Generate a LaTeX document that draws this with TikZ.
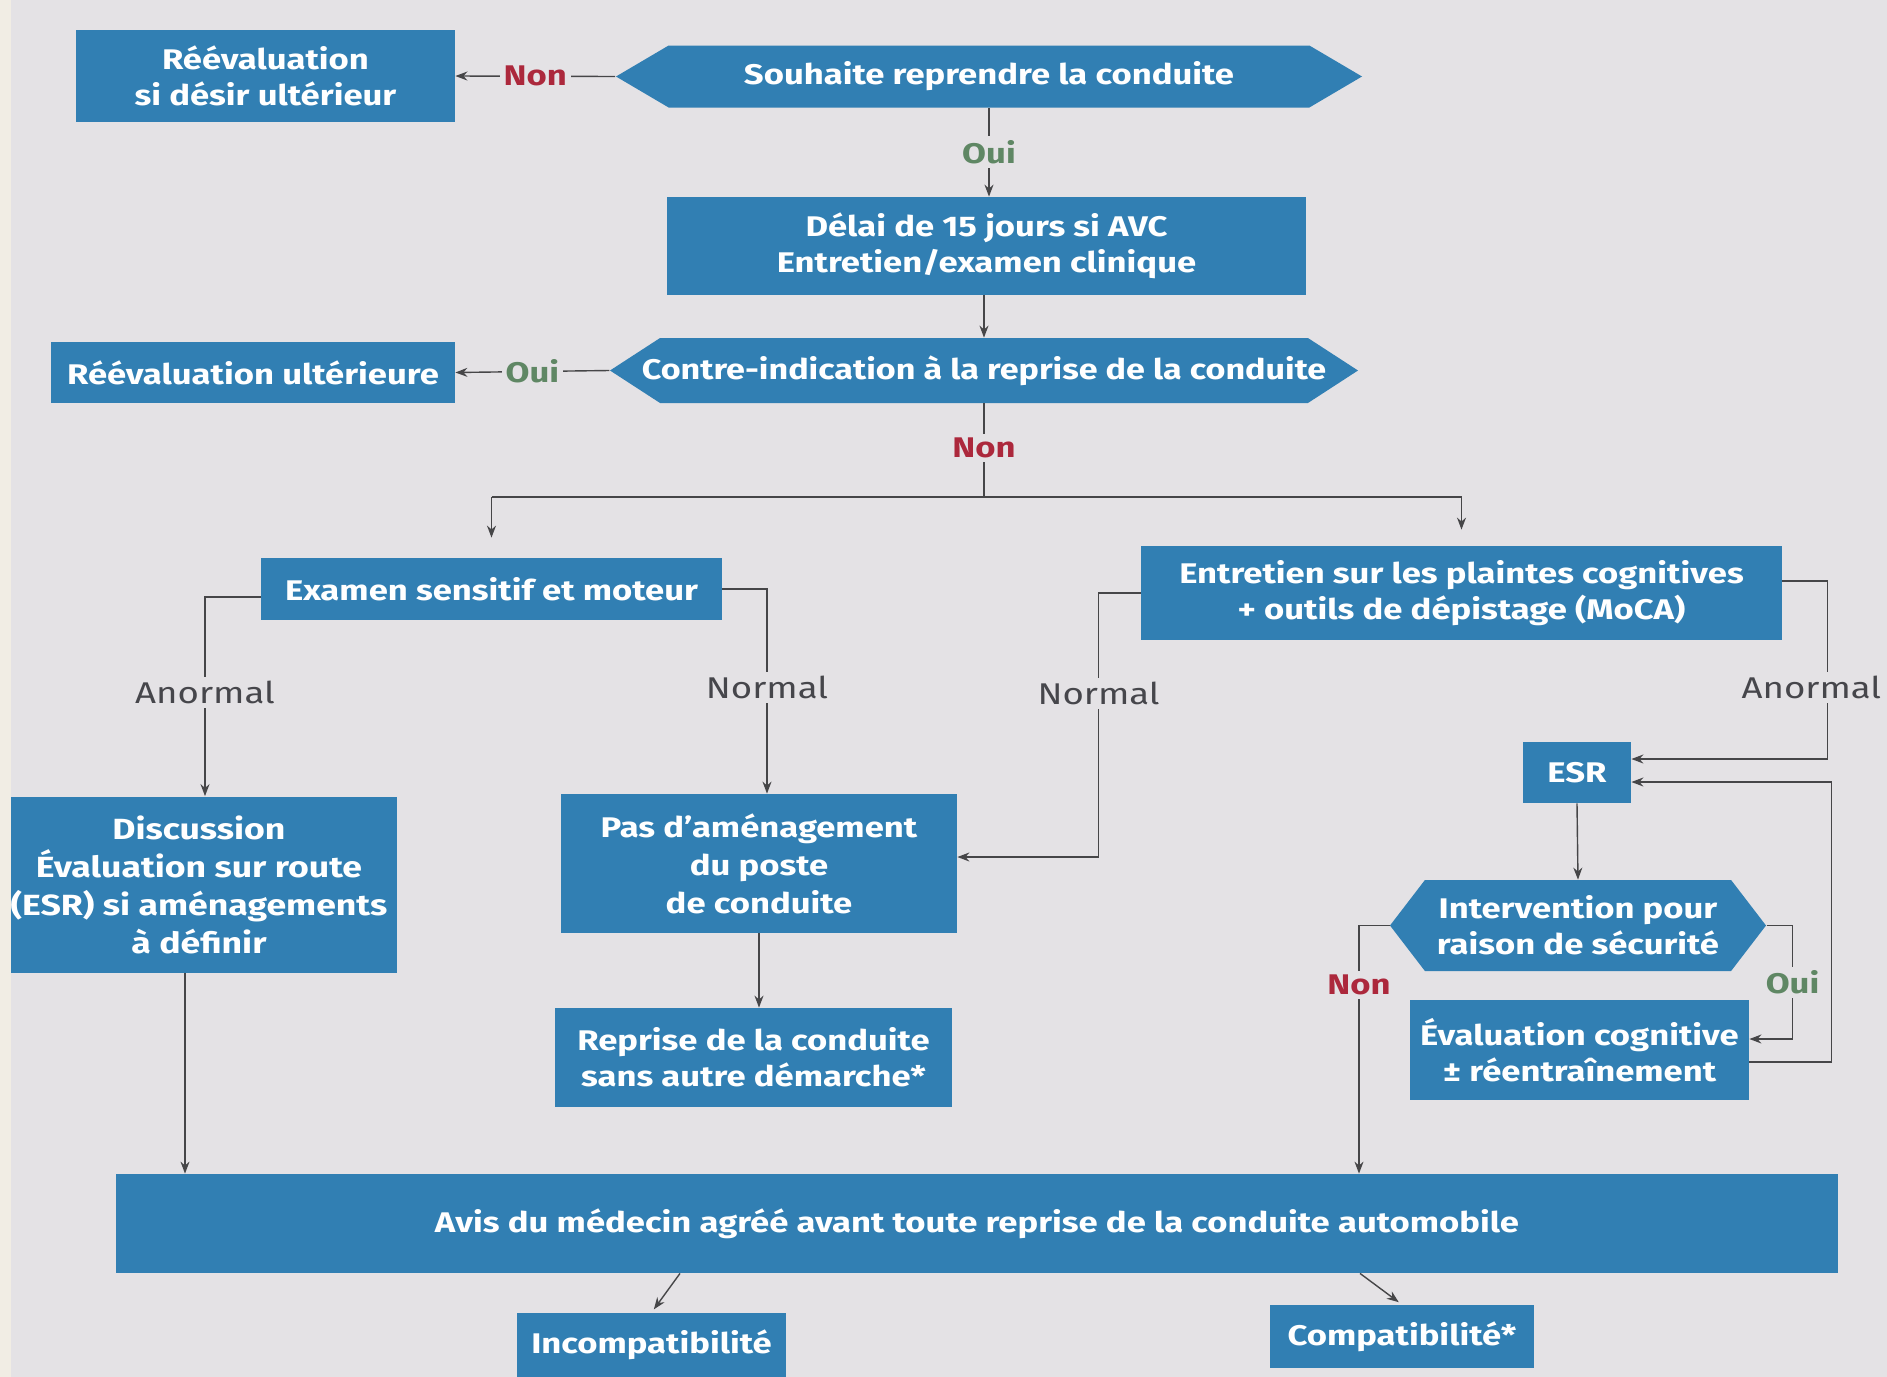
\documentclass[tikz,border=0pt]{standalone}
\usepackage{fontspec}
\setmainfont{Fira Sans}[FakeStretch=1.22]
\usetikzlibrary{shapes.symbols,arrows.meta,calc}
\definecolor{bg}{RGB}{228,226,229}
\definecolor{cream}{RGB}{241,237,228}
\definecolor{boxblue}{RGB}{49,127,179}
\definecolor{linegray}{RGB}{70,70,72}
\definecolor{nonred}{RGB}{172,40,60}
\definecolor{ouigreen}{RGB}{95,135,100}
\definecolor{lblgray}{RGB}{70,70,75}
\begin{document}
\begin{tikzpicture}[x=0.5pt,y=-0.5pt,
 box/.style={fill=boxblue, text=white, font=\fontsize{14.2}{18}\selectfont\bfseries, align=center, inner sep=2pt, anchor=center},
 hexa/.style={fill=boxblue, signal, signal to=west and east, signal pointer angle=#1, inner sep=0pt, anchor=center},
 hextext/.style={text=white, font=\fontsize{14.2}{18}\selectfont\bfseries, align=center},
 conn/.style={draw=linegray, line width=0.7pt},
 arr/.style={conn, -{Stealth[length=6pt,width=4.5pt]}},
 lbl/.style={fill=bg, inner sep=2pt, font=\fontsize{15}{17}\selectfont, text=lblgray},
 nonlbl/.style={lbl, text=nonred, font=\fontsize{14.2}{16}\selectfont\bfseries},
 ouilbl/.style={lbl, text=ouigreen, font=\fontsize{14.2}{16}\selectfont\bfseries},
]
\useasboundingbox (0,0) rectangle (1887,1377);
\clip (0,0) rectangle (1887,1377);
\fill[bg] (0,0) rectangle (1887,1377);

% nodes
\node[box, minimum width=189.5pt, minimum height=46pt] (reevalA) at (265.5,76) {Réévaluation\\si désir ultérieur};
\node[hexa=61, minimum width=373pt, minimum height=31pt,
      label={[hextext]center:Souhaite reprendre la conduite}] (souhaite) at (989,76.5) {};
\node[box, minimum width=319.5pt, minimum height=49pt] (delai) at (986.5,246) {Délai de 15 jours si AVC\\Entretien/examen clinique};
\node[hexa=66, minimum width=374pt, minimum height=32.5pt,
      label={[hextext, xscale=0.985]center:Contre-indication à la reprise de la conduite}] (contre) at (984,370.5) {};
\node[box, minimum width=202pt, minimum height=30.5pt] (reevalB) at (253,372.5) {Réévaluation ultérieure};
\node[box, minimum width=230.5pt, minimum height=31pt] (examen) at (491.5,589) {Examen sensitif et moteur};
\node[box, minimum width=320.5pt, minimum height=47pt] (entretien) at (1461.5,593) {Entretien sur les plaintes cognitives\\+ outils de dépistage (MoCA)};
\node[box, font=\fontsize{14.6}{19}\selectfont\bfseries, minimum width=198pt, minimum height=88pt] (discussion) at (199,884.5) {Discussion\\Évaluation sur route\\(ESR) si aménagements\\à définir};
\node[box, font=\fontsize{14.2}{19}\selectfont\bfseries, minimum width=198pt, minimum height=69.5pt] (pasdam) at (759,863.5) {Pas d'aménagement\\du poste\\de conduite};
\node[box, minimum width=198.5pt, minimum height=49.5pt] (reprise) at (753.5,1057.5) {Reprise de la conduite\\sans autre démarche*};
\node[box, minimum width=54pt, minimum height=30.5pt] (esr) at (1577,772.5) {ESR};
\node[hexa=105, minimum width=188pt, minimum height=45.5pt,
      label={[hextext]center:Intervention pour\\raison de sécurité}] (interv) at (1578,925.5) {};
\node[box, minimum width=169.5pt, minimum height=50pt] (evalcog) at (1579.5,1050) {Évaluation cognitive\\± réentraînement};
\node[box, minimum width=861pt, minimum height=49.5pt] (avis) at (977,1223.5) {Avis du médecin agréé avant toute reprise de la conduite automobile};
\node[box, minimum width=134.5pt, minimum height=32pt] (incompat) at (651.5,1345) {Incompatibilité};
\node[box, minimum width=132pt, minimum height=31.5pt] (compat) at (1402,1336.5) {Compatibilité*};

% connectors
\draw[arr] (souhaite.west) -- node[nonlbl]{Non} (reevalA.east);
\draw[arr] (souhaite.south) -- node[ouilbl]{Oui} (souhaite.south |- delai.north);
\draw[arr] (contre.north |- delai.south) -- (contre.north);
\draw[arr] (contre.west) -- node[ouilbl]{Oui} (reevalB.east);
\coordinate (j) at (984,497);
\coordinate (jL) at (491.5,497);
\coordinate (jR) at (1461.5,497);
\draw[conn] (contre.south) -- node[nonlbl, pos=0.48]{Non} (j);
\draw[conn] (jL) -- (jR);
\draw[arr, shorten >=10pt] (jL) -- (examen.north);
\draw[arr, shorten >=8pt] (jR) -- (entretien.north);

\draw[arr] ([yshift=-4pt]examen.west) -| node[lbl, pos=0.74]{Anormal} ([xshift=3pt]discussion.north);
\draw[arr] (examen.east) -| node[lbl, pos=0.74]{Normal} ([xshift=4pt]pasdam.north);
\draw[arr] (entretien.west) -- ++(-42,0) |- node[lbl, pos=0.19]{Normal} ([yshift=3.25pt]pasdam.east);
\draw[arr] ([yshift=6pt]entretien.east) -- ++(45,0) |- node[lbl, pos=0.3, xshift=-8pt]{Anormal} ([yshift=6.75pt]esr.east);
\draw[arr] ([yshift=-6pt]evalcog.east) -- ++(82,0) |- ([yshift=-4.75pt]esr.east);
\draw[arr] (esr.south) -- (interv.north);
\draw[arr] (interv.east) -- ++(26,0) |- node[ouilbl, pos=0.25]{Oui} ([yshift=5.5pt]evalcog.east);
\draw[arr] (interv.west) -| node[nonlbl, pos=0.62]{Non} ([xshift=191pt]avis.north);
\draw[arr] (pasdam.south) -- (pasdam.south |- reprise.north);
\draw[arr] ([xshift=-7pt]discussion.south) -- ([xshift=-7pt]discussion.south |- avis.north);
\draw[arr, shorten >=2pt] ([xshift=-148.5pt]avis.south) -- (incompat.north);
\draw[arr, shorten >=2pt] ([xshift=191.5pt]avis.south) -- (compat.north);

\fill[cream] (0,0) rectangle (11,1377);
\end{tikzpicture}
\end{document}
